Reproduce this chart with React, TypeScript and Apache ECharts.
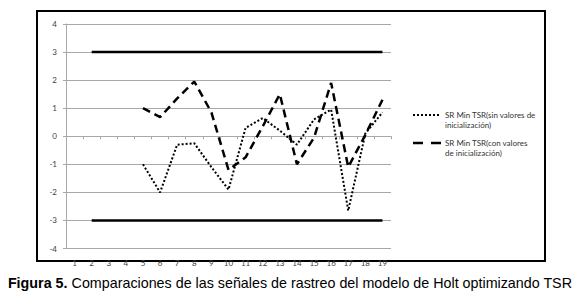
import React, { useEffect, useRef } from "react";
import * as echarts from "echarts";

const categories = ["1","2","3","4","5","6","7","8","9","10","11","12","13","14","15","16","17","18","19"];
const sinValores: (number | null)[] = [null, null, null, null, -1.0, -2.0, -0.3, -0.25, -1.1, -1.9, 0.3, 0.65, 0.2, -0.3, 0.6, 0.95, -2.65, 0.1, 0.85];
const conValores: (number | null)[] = [null, null, null, null, 1.0, 0.68, 1.35, 1.95, 0.85, -1.2, -0.75, 0.35, 1.5, -1.0, -0.05, 1.9, -1.1, 0.05, 1.3];
const limiteSuperior: (number | null)[] = [null, 3, 3, 3, 3, 3, 3, 3, 3, 3, 3, 3, 3, 3, 3, 3, 3, 3, 3];
const limiteInferior: (number | null)[] = [null, -3, -3, -3, -3, -3, -3, -3, -3, -3, -3, -3, -3, -3, -3, -3, -3, -3, -3];

const legendSin = ["SR Min TSR(sin valores de", "inicialización)"];
const legendCon = ["SR Min TSR(con valores", "de inicialización)"];
const captionBold = "Figura 5.";
const captionRest = " Comparaciones de las señales de rastreo del modelo de Holt optimizando TSR";

export default function App() {
  const ref = useRef<HTMLDivElement>(null);
  useEffect(() => {
    if (!ref.current) return;
    const chart = echarts.init(ref.current, null, { renderer: "svg" });
    const gray = "#a8a8a8";
    const labelFont = "Lato, 'Open Sans', sans-serif";
    chart.setOption({
      animation: false,
      backgroundColor: "#ffffff",
      grid: { left: 66, right: 189, top: 24, bottom: 47.5, containLabel: false },
      xAxis: {
        type: "category",
        data: categories,
        boundaryGap: true,
        axisLine: { onZero: true, lineStyle: { color: gray, width: 1 } },
        axisTick: { show: true, length: 3, alignWithLabel: false, lineStyle: { color: gray } },
        axisLabel: { color: "#404040", fontSize: 8, fontFamily: labelFont, margin: 10 },
        splitLine: { show: false },
      },
      yAxis: {
        type: "value",
        min: -4,
        max: 4,
        interval: 1,
        axisLine: { show: true, lineStyle: { color: gray, width: 1 } },
        axisTick: { show: true, length: 3, lineStyle: { color: gray } },
        axisLabel: { color: "#404040", fontSize: 8, fontFamily: labelFont, margin: 9 },
        splitLine: { show: true, lineStyle: { color: gray, width: 1 } },
      },
      series: [
        {
          type: "line",
          data: limiteSuperior,
          symbol: "none",
          lineStyle: { color: "#000", width: 2.5, type: "solid" },
          z: 3,
        },
        {
          type: "line",
          data: limiteInferior,
          symbol: "none",
          lineStyle: { color: "#000", width: 2.5, type: "solid" },
          z: 3,
        },
        {
          type: "line",
          name: "sin",
          data: sinValores,
          symbol: "none",
          lineStyle: { color: "#000", width: 2, type: [2, 2] },
          z: 4,
        },
        {
          type: "line",
          name: "con",
          data: conValores,
          symbol: "none",
          lineStyle: { color: "#000", width: 2.5, type: [8, 5] },
          z: 4,
        },
      ],
      graphic: [
        {
          type: "rect",
          shape: { x: 37, y: 11, width: 508, height: 250 },
          style: { fill: "none", stroke: "#000", lineWidth: 2 },
          silent: true,
        },
        {
          type: "line",
          shape: { x1: 413, y1: 115, x2: 441, y2: 115 },
          style: { stroke: "#000", lineWidth: 2, lineDash: [2, 2] },
        },
        {
          type: "text",
          x: 445,
          y: 110,
          style: {
            text: legendSin.join("\n"),
            fontSize: 8,
            fontFamily: labelFont,
            fill: "#333",
            lineHeight: 10,
            verticalAlign: "top",
          },
        },
        {
          type: "line",
          shape: { x1: 413, y1: 143, x2: 441, y2: 143 },
          style: { stroke: "#000", lineWidth: 2.5, lineDash: [10, 8] },
        },
        {
          type: "text",
          x: 445,
          y: 138,
          style: {
            text: legendCon.join("\n"),
            fontSize: 8,
            fontFamily: labelFont,
            fill: "#333",
            lineHeight: 10,
            verticalAlign: "top",
          },
        },
        {
          type: "text",
          x: 290,
          y: 283,
          style: {
            text: "{b|" + captionBold + "}{n|" + captionRest + "}",
            align: "center",
            verticalAlign: "middle",
            rich: {
              b: { fontSize: 14.3, fontWeight: "bold", fontFamily: "'Liberation Sans', Arial, sans-serif", fill: "#000" },
              n: { fontSize: 14.3, fontFamily: "'Liberation Sans', Arial, sans-serif", fill: "#000" },
            },
          },
        },
      ],
    });
    return () => chart.dispose();
  }, []);
  return (
    <div
      ref={ref}
      style={{ position: "fixed", left: 0, top: 0, width: 580, height: 296, background: "#fff" }}
    />
  );
}
